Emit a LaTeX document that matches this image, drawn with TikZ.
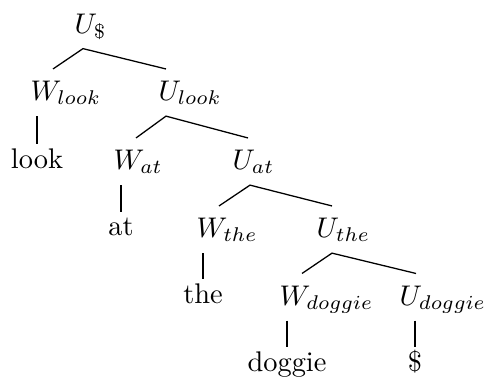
\documentclass[tikz,border=0pt]{standalone}
\usepackage{amsmath}
\usetikzlibrary{calc}
\tikzset{
    treenode/.style={anchor=base west, inner sep=0pt, text height=10.9pt, text depth=5.3pt},
    leafnode/.style={anchor=base, inner sep=0pt, text height=8.1pt, text depth=2pt},
    branch/.style={black, line width=0.45pt}
}

\begin{document}
\begin{tikzpicture}[x=0.352pt, y=-0.352pt]
    % Frame (pixel units, y downwards)
    \useasboundingbox (0,0) rectangle (484,377);

    % Root
    \node[treenode] (us) at (74,33) {$U_{\$}$};

    % Level 1
    \node[treenode] (wlook) at (30,100.5) {$W_{look}$};
    \node[treenode] (ulook) at (158,100.5) {$U_{look}$};

    % Level 2
    \node[leafnode] (look) at (37,168) {look};
    \node[treenode] (wat) at (113,169.5) {$W_{at}$};
    \node[treenode] (uat) at (232,169.5) {$U_{at}$};

    % Level 3
    \node[leafnode] (at) at (121,235.5) {at};
    \node[treenode] (wthe) at (196,237.5) {$W_{the}$};
    \node[treenode] (uthe) at (316,237.5) {$U_{the}$};

    % Level 4
    \node[leafnode] (the) at (203,303) {the};
    \node[treenode] (wdoggie) at (279,305) {$W_{doggie}$};
    \node[treenode] (udoggie) at (399,305) {$U_{doggie}$};

    % Leaves at the bottom
    \node[leafnode] (doggie) at (287,371) {doggie};
    \node[leafnode] (dollar) at (415,371) {\$};

    % Branches: U -> W and U
    \draw[branch] ($(wlook.north west)+(23,0)$) -- ($(us.south west)+(9,0)$) -- ($(ulook.north west)+(8,0)$);
    \draw[branch] ($(wat.north west)+(23,0)$) -- ($(ulook.south west)+(8,0)$) -- ($(uat.north west)+(16,0)$);
    \draw[branch] ($(wthe.north west)+(23,0)$) -- ($(uat.south west)+(18,0)$) -- ($(uthe.north west)+(16,0)$);
    \draw[branch] ($(wdoggie.north west)+(23,0)$) -- ($(uthe.south west)+(16,0)$) -- ($(udoggie.north west)+(17,0)$);

    % Branches: W -> word, U -> end marker
    \draw[branch] (look.north |- wlook.south) -- (look.north);
    \draw[branch] (at.north |- wat.south) -- (at.north);
    \draw[branch] (the.north |- wthe.south) -- (the.north);
    \draw[branch] (doggie.north |- wdoggie.south) -- (doggie.north);
    \draw[branch] (dollar.north |- udoggie.south) -- (dollar.north);
\end{tikzpicture}
\end{document}
